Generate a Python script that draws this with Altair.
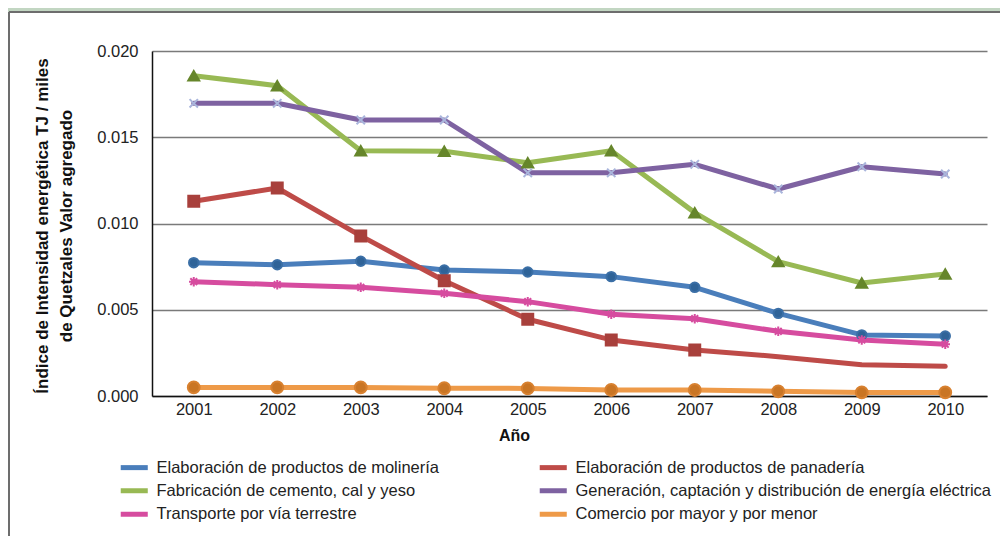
import altair as alt
import pandas as pd

years = [2001, 2002, 2003, 2004, 2005, 2006, 2007, 2008, 2009, 2010]
series = [
    "Elaboración de productos de molinería",
    "Elaboración de productos de panadería",
    "Fabricación de cemento, cal y yeso",
    "Generación, captación y distribución de energía eléctrica",
    "Transporte por vía terrestre",
    "Comercio por mayor y por menor",
]
molineria = [0.00773, 0.00761, 0.00781, 0.00730, 0.00719, 0.00692, 0.00630, 0.00479, 0.00354, 0.00348]
panaderia = [0.01129, 0.01206, 0.00928, 0.00668, 0.00445, 0.00325, 0.00267, 0.00228, 0.00181, 0.00172]
cemento = [0.01857, 0.01799, 0.01422, 0.01419, 0.01352, 0.01422, 0.01063, 0.00779, 0.00655, 0.00707]
electrica = [0.01697, 0.01697, 0.01600, 0.01600, 0.01294, 0.01294, 0.01343, 0.01200, 0.01329, 0.01287]
transporte = [0.00663, 0.00645, 0.00630, 0.00595, 0.00547, 0.00474, 0.00448, 0.00375, 0.00325, 0.00300]
comercio = [0.00050, 0.00050, 0.00050, 0.00045, 0.00044, 0.00035, 0.00035, 0.00027, 0.00021, 0.00021]
values = [molineria, panaderia, cemento, electrica, transporte, comercio]

# years in which the panadería series shows no marker
panaderia_no_marker = [2008, 2009, 2010]

y_ticks = [0.0, 0.005, 0.010, 0.015, 0.020]
y_title = ["Índice de Intensidad energética TJ / miles", "de Quetzales Valor agregado"]
x_title = "Año"

rows = []
for name, vals in zip(series, values):
    for yr, v in zip(years, vals):
        rows.append({"Año": str(yr), "serie": name, "valor": v})
df = pd.DataFrame(rows)
pts = df[~((df["serie"] == series[1]) & (df["Año"].isin([str(y) for y in panaderia_no_marker])))]

line_colors = ["#4a7ebb", "#be4b48", "#98b954", "#7e62a1", "#d64c9f", "#ee9a48"]
marker_fill = ["#2f6398", "#a8403c", "#66862b", "#b3bfe0", "#d64c9f", "#c97524"]
marker_stroke = ["#3b6fa6", "#a8403c", "#66862b", "#aab6dc", "#d64c9f", "#d88130"]
x_path = "M-1,-1L1,1M1,-1L-1,1"
star_path = "M-1,0H1M0,-1V1M-0.72,-0.72L0.72,0.72M0.72,-0.72L-0.72,0.72"
shapes = ["circle", "square", "triangle-up", x_path, star_path, "circle"]
sizes = [90, 120, 120, 70, 90, 140]

W, H = 835, 345
FONT = "Liberation Sans"
year_order = [str(y) for y in years]

x_enc = alt.X(
    "Año:O",
    sort=year_order,
    axis=alt.Axis(
        title=x_title, labelAngle=0, ticks=False, labelPadding=5, grid=False,
        domainColor="#111", domainWidth=1.5, labelFontSize=16.5, labelColor="#222",
        titleFontSize=16, titleFontWeight="bold", titleColor="#111",
        titleX=362, titleY=39, titleBaseline="middle",
    ),
)
y_enc = alt.Y(
    "valor:Q",
    scale=alt.Scale(domain=[0, 0.02], nice=False),
    axis=alt.Axis(
        title=y_title, values=y_ticks, format=".3f", ticks=False, labelPadding=14,
        grid=True, gridColor="#7a7a7a", gridWidth=1.3, domainColor="#111", domainWidth=1.5,
        labelFontSize=16.5, labelColor="#222",
        titleFontSize=17, titleFontWeight="bold", titleColor="#111",
        titleX=-110, titleY=H / 2 + 2, titleAlign="center", titleBaseline="middle",
        titleLineHeight=24, titleAngle=270,
    ),
)

lines = alt.Chart(df).mark_line(strokeWidth=5, strokeJoin="round", strokeCap="round").encode(
    x=x_enc,
    y=y_enc,
    color=alt.Color(
        "serie:N",
        scale=alt.Scale(domain=series, range=line_colors),
        legend=alt.Legend(
            orient="none", legendX=-26, legendY=408, columns=2, direction="horizontal",
            title=None,
            symbolType="M-2.5,0H2.5", symbolSize=117, symbolStrokeWidth=5,
            labelFontSize=16.5, labelColor="#222", labelLimit=600, labelOffset=14,
            columnPadding=89, rowPadding=2.5, padding=0,
        ),
    ),
    order=alt.Order("Año:O"),
)

marker_layers = []
for i, name in enumerate(series):
    sub = pts[pts["serie"] == name]
    marker_layers.append(
        alt.Chart(sub).mark_point(
            filled=True, shape=shapes[i], fill=marker_fill[i], stroke=marker_stroke[i],
            strokeWidth=2, size=sizes[i], opacity=1,
        ).encode(
            x=alt.X("Año:O", sort=year_order),
            y=alt.Y("valor:Q"),
        )
    )

one = pd.DataFrame({"k": [0]})
green_strip = alt.Chart(one).mark_rect(color="#c2d6c2").encode(
    x=alt.value(-160), x2=alt.value(W + 40), y=alt.value(-60), y2=alt.value(-39)
)
top_border = alt.Chart(one).mark_rule(color="#6d6d6d", strokeWidth=2).encode(
    x=alt.value(-143), x2=alt.value(W + 40), y=alt.value(-39)
)
left_border = alt.Chart(one).mark_rule(color="#6d6d6d", strokeWidth=2).encode(
    x=alt.value(-143), y=alt.value(-39), y2=alt.value(H + 200)
)

chart = alt.layer(green_strip, top_border, left_border, lines, *marker_layers).properties(
    width=W, height=H,
    padding={"left": 144, "top": 43, "right": 13, "bottom": 140},
    autosize=alt.AutoSizeParams(type="none"),
    background="white",
).configure(font=FONT).configure_view(stroke=None)

chart.save("out.html", embed_options={"renderer": "svg", "actions": False})
